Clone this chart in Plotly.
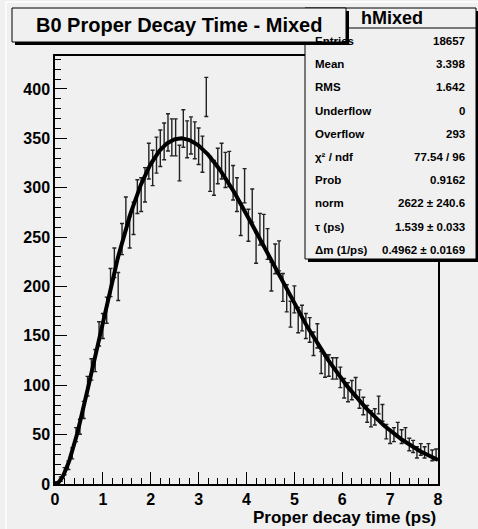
import numpy as np
import plotly.graph_objects as go

# ---- data ----
bin_width = 0.08
bin_centers = [round(0.04 + bin_width * k, 2) for k in range(100)]
counts = [
    1, 5, 13, 19, 31, 50, 58, 75, 99, 116,
    125, 152, 160, 176, 204, 224, 200, 248, 274, 255,
    269, 291, 293, 303, 327, 320, 333, 340, 347, 356,
    351, 351, 325, 360, 349, 353, 348, 342, 334, 392,
    314, 310, 322, 327, 318, 319, 305, 293, 268, 302,
    262, 282, 239, 258, 257, 243, 210, 228, 231, 199,
    188, 172, 187, 166, 168, 160, 156, 142, 150, 123,
    119, 120, 117, 117, 108, 97, 93, 95, 98, 86,
    79, 71, 66, 68, 80, 72, 53, 48, 50, 55,
    48, 50, 40, 38, 32, 35, 32, 35, 29, 30,
]
errors = [float(np.sqrt(c)) for c in counts]

# fit parameters (from stats box)
fit_norm = 2622.0
fit_tau = 1.539
fit_dm = 0.4962

stats_labels = ["Entries", "Mean", "RMS", "Underflow", "Overflow",
                "χ² / ndf", "Prob", "norm", "τ (ps)", "Δm (1/ps)"]
stats_values = ["18657", "3.398", "1.642", "0", "293",
                "77.54 / 96", "0.9162", "2622 ± 240.6", "1.539 ± 0.033",
                "0.4962 ± 0.0169"]

title_text = "B0 Proper Decay Time - Mixed"
stats_title = "hMixed"
x_title = "Proper decay time (ps)"

# fit curve from the fit function
t_fit = np.linspace(0, 8, 400)
y_fit = fit_norm * np.exp(-t_fit / fit_tau) * (1 - np.cos(fit_dm * t_fit))

W, H = 478, 529
L, R, T, B = 55, 438, 56, 484
BG = "#f0f0f0"


def px(x):
    return (x - L) / (R - L)


def py(y):
    return (B - y) / (B - T)


fig = go.Figure()
fig.add_trace(go.Scatter(
    x=bin_centers, y=counts, mode="markers",
    marker=dict(size=1, color="rgba(0,0,0,0)"),
    error_y=dict(type="data", array=errors, visible=True,
                 color="#222222", thickness=1.4, width=2),
    showlegend=False, hoverinfo="x+y",
))
fig.add_trace(go.Scatter(
    x=t_fit, y=y_fit, mode="lines",
    line=dict(color="black", width=4),
    showlegend=False, hoverinfo="skip",
))

bold = dict(family="Liberation Sans, Arial, sans-serif", color="black", weight="bold")

fig.update_layout(
    width=W, height=H,
    margin=dict(l=L, r=W - R, t=T, b=H - B),
    paper_bgcolor=BG, plot_bgcolor=BG,
    font=dict(family="Liberation Sans, Arial, sans-serif", color="black"),
    xaxis=dict(range=[0, 8], showgrid=False, zeroline=False,
               showline=True, linecolor="black", linewidth=1.5, mirror=True,
               ticks="inside", ticklen=12, tickwidth=1.2, tickcolor="black",
               dtick=1, tick0=0,
               minor=dict(ticks="inside", ticklen=6, dtick=0.2, tickcolor="black", tickwidth=1.2),
               tickfont=dict(size=16, **bold)),
    yaxis=dict(range=[0, 433.4], showgrid=False, zeroline=False,
               showline=True, linecolor="black", linewidth=1.5, mirror=True,
               ticks="inside", ticklen=12, tickwidth=1.2, tickcolor="black",
               dtick=50, tick0=0,
               minor=dict(ticks="inside", ticklen=6, dtick=10, tickcolor="black", tickwidth=1.2),
               tickfont=dict(size=16, **bold)),
)

shapes = []
# canvas highlight border
shapes.append(dict(type="line", xref="paper", yref="paper", x0=px(6), x1=px(6), y0=py(2), y1=py(529),
                   line=dict(color="#fbfbfb", width=2), layer="below"))
shapes.append(dict(type="line", xref="paper", yref="paper", x0=px(6), x1=px(478), y0=py(2), y1=py(2),
                   line=dict(color="#fbfbfb", width=2), layer="below"))
# stats box shadow + box
shapes.append(dict(type="rect", xref="paper", yref="paper", x0=px(308), x1=px(479), y0=py(262), y1=py(11),
                   fillcolor="black", line=dict(width=0), layer="above"))
shapes.append(dict(type="rect", xref="paper", yref="paper", x0=px(305), x1=px(476), y0=py(259), y1=py(8),
                   fillcolor=BG, line=dict(color="black", width=1), layer="above"))
shapes.append(dict(type="line", xref="paper", yref="paper", x0=px(305), x1=px(476), y0=py(28), y1=py(28),
                   line=dict(color="black", width=1), layer="above"))
# title box shadow + box
shapes.append(dict(type="rect", xref="paper", yref="paper", x0=px(15), x1=px(349), y0=py(45), y1=py(11),
                   fillcolor="black", line=dict(width=0), layer="above"))
shapes.append(dict(type="rect", xref="paper", yref="paper", x0=px(12), x1=px(346), y0=py(42), y1=py(8),
                   fillcolor=BG, line=dict(color="black", width=1), layer="above"))

annotations = []
annotations.append(dict(text=title_text, xref="paper", yref="paper", x=px(179), y=py(25),
                        xanchor="center", yanchor="middle", showarrow=False,
                        font=dict(size=20, **bold)))
annotations.append(dict(text=stats_title, xref="paper", yref="paper", x=px(359), y=py(18),
                        xanchor="left", yanchor="middle", showarrow=False,
                        font=dict(size=18, **bold)))
row_y0, row_dy = 41, 23.2
for i, (lab, val) in enumerate(zip(stats_labels, stats_values)):
    yy = row_y0 + i * row_dy
    annotations.append(dict(text=lab, xref="paper", yref="paper", x=px(313), y=py(yy),
                            xanchor="left", yanchor="middle", showarrow=False,
                            font=dict(size=11.5, **bold)))
    annotations.append(dict(text=val, xref="paper", yref="paper", x=px(467), y=py(yy),
                            xanchor="right", yanchor="middle", showarrow=False,
                            font=dict(size=11.5, **bold)))
annotations.append(dict(text=x_title, xref="paper", yref="paper", x=1.0, y=py(517),
                        xanchor="right", yanchor="middle", showarrow=False,
                        font=dict(size=17, **bold)))

fig.update_layout(shapes=shapes, annotations=annotations)
fig.write_html("out.html")
